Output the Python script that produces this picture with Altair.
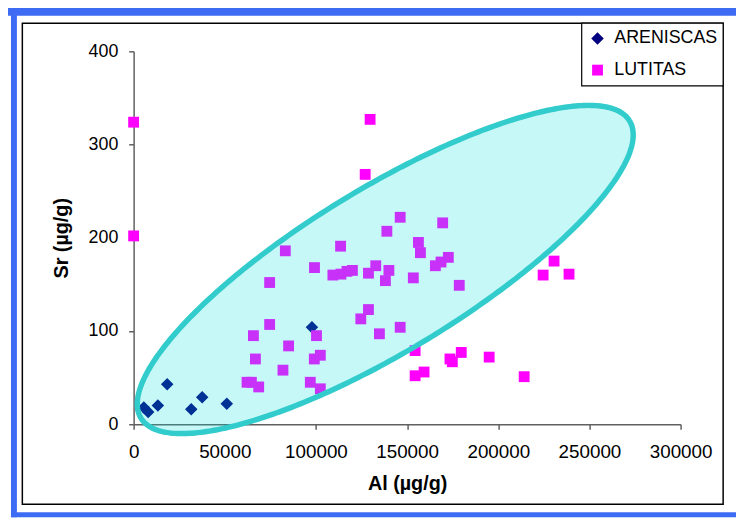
import altair as alt
import numpy as np
import pandas as pd

# ---------------- data ----------------
series_names = ["ARENISCAS", "LUTITAS"]

aren_al = [5600, 8000, 13300, 18400, 31600, 37600, 51100, 97800]
aren_sr = [18, 13, 20, 43, 16, 29, 22, 104]

lut_al = [0, 0, 129700, 127000, 230600, 238800, 224600, 154400, 159300, 173500,
          174800, 179700, 195000, 214200, 154400,
          83200, 99200, 74600, 74600, 65700, 85000, 66800, 100300, 99100, 102400,
          81900, 62200, 64600, 68600, 96900, 102400, 146200, 169500, 138900, 113500,
          156200, 157300, 172600, 168600, 165500, 132800, 140000, 120000, 117000, 113700,
          109300, 128800, 138100, 153400, 178600, 128800, 124600, 146200, 134800]
lut_sr = [324, 202, 327, 268, 175, 161, 160, 52, 56, 70,
          67, 77, 72, 51, 79,
          186, 168, 152, 107, 95, 84, 70, 95, 70, 74,
          58, 45, 45, 40, 45, 38, 222, 216, 207, 191,
          195, 184, 179, 174, 170, 170, 165, 165, 164, 161,
          160, 162, 154, 157, 149, 123, 113, 104, 97]

x_ticks = [0, 50000, 100000, 150000, 200000, 250000, 300000]
y_ticks = [0, 100, 200, 300, 400]
x_domain = [0, 300000]
y_domain = [0, 400]

# ellipse drawn by hand in the reference: centre in data units, axes in plot pixels
ell_center_al = 138000
ell_center_sr = 166
ell_a_px = 287
ell_b_px = 82
ell_angle_deg = 31.5

W, H = 553, 377
PAD_L, PAD_T = 127, 41
FONT = "Liberation Sans"

# ---------------- tables ----------------
pts = pd.DataFrame({
    "al": aren_al + lut_al,
    "sr": aren_sr + lut_sr,
    "tipo": [series_names[0]] * len(aren_al) + [series_names[1]] * len(lut_al),
})

sx = (x_domain[1] - x_domain[0]) / 548
sy = (y_domain[1] - y_domain[0]) / 376
th = np.radians(ell_angle_deg)
c, s = np.cos(th), np.sin(th)

# outline
t = np.linspace(0, 2 * np.pi, 361)
u = ell_a_px * np.cos(t) * c - ell_b_px * np.sin(t) * s
v = ell_a_px * np.cos(t) * s + ell_b_px * np.sin(t) * c
outline = pd.DataFrame({"al": ell_center_al + u * sx, "sr": ell_center_sr + v * sy,
                        "i": np.arange(len(t))})

# filled interior (upper / lower boundary for each x)
A = s * s / ell_a_px ** 2 + c * c / ell_b_px ** 2
umax = np.sqrt(ell_a_px ** 2 * c * c + ell_b_px ** 2 * s * s)
ug = np.linspace(-umax, umax, 400)
B = 2 * ug * (c * s / ell_a_px ** 2 - s * c / ell_b_px ** 2)
C = ug ** 2 * (c * c / ell_a_px ** 2 + s * s / ell_b_px ** 2) - 1
disc = np.sqrt(np.clip(B * B - 4 * A * C, 0, None))
v_hi = (-B + disc) / (2 * A)
v_lo = (-B - disc) / (2 * A)
area = pd.DataFrame({"al": ell_center_al + ug * sx,
                     "hi": ell_center_sr + v_hi * sy,
                     "lo": ell_center_sr + v_lo * sy})

xs = alt.Scale(domain=x_domain, nice=False, zero=False)
ys = alt.Scale(domain=y_domain, nice=False, zero=False)

# page-pixel helpers for the decorations
def px(page_x):
    return page_x - 8 - PAD_L

def py(page_y):
    return page_y - 8 - PAD_T

legend = alt.Legend(title=None, orient="none", legendX=px(595), legendY=py(27),
                    labelFont=FONT, labelFontSize=18, labelColor="black",
                    symbolSize=95, rowPadding=14, labelOffset=8, padding=0,
                    symbolStrokeWidth=0)

x_axis = alt.Axis(values=x_ticks, format="d", grid=False, domainColor="#606060",
                  domainWidth=1.5, tickColor="#606060", tickWidth=1.5, tickSize=5,
                  labelFont=FONT, labelFontSize=19, labelColor="black", labelPadding=14,
                  labelFlush=False, labelOverlap=False,
                  title="Al (µg/g)", titleFont=FONT, titleFontSize=20,
                  titleFontWeight="bold", titleColor="black", titleX=W / 2, titleY=66,
                  titleAlign="center", titleBaseline="alphabetic")
y_axis = alt.Axis(values=y_ticks, grid=False, domainColor="#606060",
                  domainWidth=1.5, tickColor="#606060", tickWidth=1.5, tickSize=5,
                  labelFont=FONT, labelFontSize=18, labelColor="black", labelPadding=11,
                  labelFlush=False, labelOverlap=False,
                  title="Sr (µg/g)", titleFont=FONT, titleFontSize=20,
                  titleFontWeight="bold", titleColor="black", titleX=px(62), titleY=H / 2,
                  titleAngle=270, titleAlign="center", titleBaseline="middle")

one = pd.DataFrame({"k": [0]})

def box(x1, x2, y1, y2, **kw):
    return alt.Chart(one).mark_rect(**kw).encode(
        x=alt.value(px(x1)), x2=alt.value(px(x2)), y=alt.value(py(y1)), y2=alt.value(py(y2)))

blue = "#3d6bf4"
frame_top = box(0, 744, 0, 13, color=blue)
frame_left = box(11, 17, 0, 520, color=blue)
frame_bottom = box(11, 744, 515, 520, color=blue)
inner = box(22.5, 731, 20.5, 507, fillOpacity=0, stroke="black", strokeWidth=1.5)
legend_box = box(588, 731, 20.5, 84, fill="white", stroke="black", strokeWidth=1.2)

points = alt.Chart(pts).mark_point(filled=True, opacity=1).encode(
    x=alt.X("al:Q", scale=xs, axis=x_axis),
    y=alt.Y("sr:Q", scale=ys, axis=y_axis),
    color=alt.Color("tipo:N", scale=alt.Scale(domain=series_names, range=["#000080", "#ff00ff"]),
                    legend=legend),
    shape=alt.Shape("tipo:N", scale=alt.Scale(domain=series_names, range=["diamond", "square"]),
                    legend=legend),
    size=alt.Size("tipo:N", scale=alt.Scale(domain=series_names, range=[160, 120]), legend=None),
)

fill = alt.Chart(area).mark_area(color="#00e0e0", opacity=0.22).encode(
    x=alt.X("al:Q", scale=xs), y=alt.Y("lo:Q", scale=ys), y2="hi:Q")

ring = alt.Chart(outline).mark_line(color="#33cccc", strokeWidth=5.5).encode(
    x=alt.X("al:Q", scale=xs), y=alt.Y("sr:Q", scale=ys), order="i:Q")

chart = alt.layer(
    frame_top, frame_left, frame_bottom, inner, legend_box, points, fill, ring
).properties(
    width=W, height=H,
    padding={"left": PAD_L, "top": PAD_T, "right": 736 - PAD_L - W, "bottom": 510 - PAD_T - H},
    autosize=alt.AutoSizeParams(type="none"),
    background="white",
).configure_view(stroke=None)

chart.save("out.html", embed_options={"renderer": "svg", "actions": False})
